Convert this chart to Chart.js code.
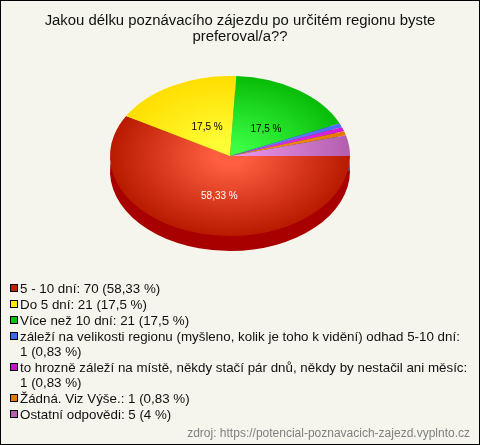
<!DOCTYPE html>
<html>
<head>
<meta charset="utf-8">
<script src="https://cdn.jsdelivr.net/npm/chart.js@4"></script>
<style>
body { margin: 0; background: #fff; }
#box { position: relative; width: 480px; height: 445px; overflow: hidden; }
#box canvas { position: absolute; left: 0; top: 0; }
#frame { position: absolute; left: 0; top: 0; width: 480px; height: 445px; box-sizing: border-box; border: 1px solid #000; }
#legend { position: absolute; left: 20px; top: 281px; width: 455px; font: 13.35px/15px "Liberation Sans", Arial, sans-serif; color: #111; }
#legend div { position: relative; margin-bottom: 1px; white-space: nowrap; }
#legend i { position: absolute; left: -10px; top: 3px; width: 6px; height: 6px; border: 1px solid #000; }
#source { position: absolute; right: 10px; top: 426px; font: 12px/15px "Liberation Sans", Arial, sans-serif; color: #808080; }
</style>
</head>
<body>
<div id="box">
  <canvas id="pie" width="480" height="445"></canvas>
  <div id="frame"></div>
  <div id="legend"></div>
  <div id="source">zdroj: https://potencial-poznavacich-zajezd.vyplnto.cz</div>
</div>
<script>
var titleLines = ['Jakou délku poznávacího zájezdu po určitém regionu byste', 'preferoval/a??'];
var categories = [
  '5 - 10 dní',
  'Do 5 dní',
  'Více než 10 dní',
  'záleží na velikosti regionu (myšleno, kolik je toho k vidění) odhad 5-10 dní',
  'to hrozně záleží na místě, někdy stačí pár dnů, někdy by nestačil ani měsíc',
  'Žádná. Viz Výše.',
  'Ostatní odpovědi'
];
var values = [70, 21, 21, 1, 1, 1, 5];
var percents = ['58,33', '17,5', '17,5', '0,83', '0,83', '0,83', '4'];
var wrapped = [false, false, false, true, true, false, false];
var swatchColors = ['#c81e00', '#ffe600', '#0cc20c', '#3a6af0', '#c814c8', '#e87800', '#b860b0'];
var innerColors = ['#ff5f40', '#ffff38', '#3cff44', '#6688ff', '#f030f0', '#ff9010', '#e892e8'];
var outerColors = ['#b81a00', '#ffde00', '#08bc08', '#4a6cf8', '#d818d8', '#e87800', '#b45eae'];
var depthColors = ['#a80000', '#b09a00', '#057a05', '#2a40a0', '#8a0a8a', '#a05000', '#7a3a76'];
var labelColors = ['#ffffff', '#000000', '#000000'];

// the pie is a flat circle squashed into an ellipse, with a dark copy below it for the edge
var squash = 2 / 3;
var pieCenterX = 230;
var pieCenterY = 156;
var pieDepth = 15;
var labelDist = 0.47;

function pieTransform(chart, ctx) {
  var area = chart.chartArea;
  var cx = (area.left + area.right) / 2;
  var cy = (area.top + area.bottom) / 2;
  ctx.translate(pieCenterX, pieCenterY);
  ctx.scale(1, squash);
  ctx.translate(-cx, -cy);
}

function sliceColor(c) {
  var area = c.chart.chartArea;
  if (!area) return outerColors[c.dataIndex];
  var cx = (area.left + area.right) / 2;
  var cy = (area.top + area.bottom) / 2;
  var g = c.chart.ctx.createRadialGradient(cx, cy, 0, cx, cy, (area.bottom - area.top) / 2);
  g.addColorStop(0.12, innerColors[c.dataIndex]);
  g.addColorStop(1, outerColors[c.dataIndex]);
  return g;
}

var flatPie = {
  id: 'flatPie',
  beforeDatasetsDraw: function(chart) {
    var ctx = chart.ctx;
    var arcs = chart.getDatasetMeta(0).data;
    ctx.save();
    ctx.translate(0, pieDepth);
    pieTransform(chart, ctx);
    arcs.forEach(function(arc, i) {
      var keep = arc.options;
      arc.options = Object.assign({}, keep, { backgroundColor: depthColors[i] });
      arc.draw(ctx);
      arc.options = keep;
    });
    ctx.restore();
    ctx.save();
    pieTransform(chart, ctx);
  },
  afterDatasetsDraw: function(chart) {
    var ctx = chart.ctx;
    ctx.restore();
    var arcs = chart.getDatasetMeta(0).data;
    ctx.save();
    ctx.font = '10px "Liberation Sans", Arial, sans-serif';
    ctx.textAlign = 'center';
    ctx.textBaseline = 'middle';
    for (var i = 0; i < labelColors.length; i++) {
      var mid = (arcs[i].startAngle + arcs[i].endAngle) / 2;
      var r = arcs[i].outerRadius * labelDist;
      ctx.fillStyle = labelColors[i];
      ctx.fillText(percents[i] + ' %', pieCenterX + 4 + Math.cos(mid) * r, pieCenterY + 4 + Math.sin(mid) * r * squash);
    }
    ctx.restore();
  }
};

var paintBack = {
  id: 'paintBack',
  beforeDraw: function(chart) {
    chart.ctx.save();
    chart.ctx.fillStyle = '#f5f5ed';
    chart.ctx.fillRect(0, 0, chart.width, chart.height);
    chart.ctx.restore();
  }
};

new Chart(document.getElementById('pie').getContext('2d'), {
  type: 'pie',
  data: {
    labels: categories,
    datasets: [{
      data: values,
      backgroundColor: sliceColor,
      borderWidth: 0,
      clip: false
    }]
  },
  options: {
    responsive: false,
    animation: false,
    rotation: 90,
    layout: { padding: { bottom: 157 } },
    plugins: {
      legend: { display: false },
      tooltip: { enabled: false },
      title: {
        display: true,
        text: titleLines,
        color: '#111111',
        font: { family: '"Liberation Sans", Arial, sans-serif', size: 14.9, weight: 'normal', lineHeight: 1.074 },
        padding: { top: 13, bottom: 3 }
      }
    }
  },
  plugins: [paintBack, flatPie]
});

var legend = document.getElementById('legend');
categories.forEach(function(name, i) {
  var row = document.createElement('div');
  var mark = document.createElement('i');
  mark.style.background = swatchColors[i];
  row.appendChild(mark);
  var tail = values[i] + ' (' + percents[i] + ' %)';
  if (wrapped[i]) {
    row.appendChild(document.createTextNode(name + ':'));
    row.appendChild(document.createElement('br'));
    row.appendChild(document.createTextNode(tail));
  } else {
    row.appendChild(document.createTextNode(name + ': ' + tail));
  }
  legend.appendChild(row);
});
</script>
</body>
</html>
